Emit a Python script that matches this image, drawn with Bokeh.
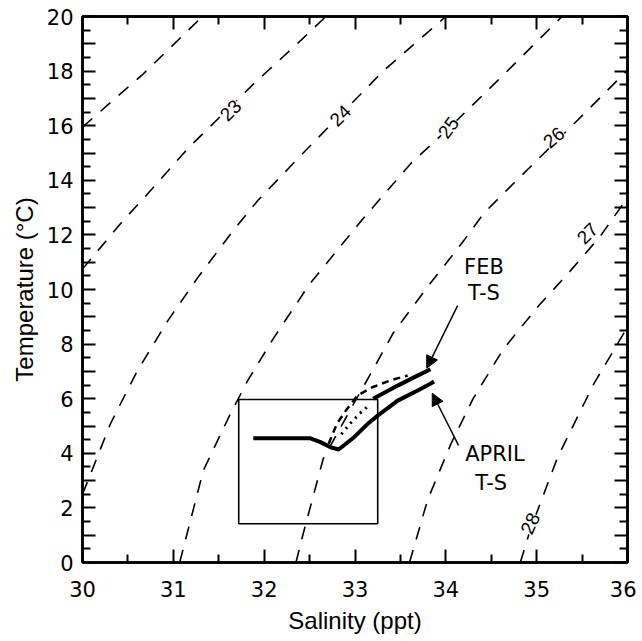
from bokeh.plotting import figure
from bokeh.models import (ColumnDataSource, LabelSet, Arrow, NormalHead, LinearAxis,
                          FixedTicker, Range1d)
from bokeh.core.properties import value
from bokeh.embed import file_html
from bokeh.resources import INLINE

# ---- sigma-t isopycnals: salinity (ppt) / temperature (degC)
s22 = [30.0, 30.67, 31.32]
t22 = [15.95, 17.9, 20.0]
s23 = [30.0, 30.42, 30.73, 31.17, 31.89, 32.38, 32.68]
t23 = [10.75, 12.42, 13.55, 15.2, 17.55, 19.05, 20.0]
s24 = [30.0, 30.31, 30.6, 30.94, 31.27, 31.66, 31.93, 32.43, 32.84, 33.31, 34.0]
t24 = [2.5, 5.1, 7.0, 8.86, 10.44, 12.16, 13.26, 15.0, 16.4, 18.0, 20.0]
s25 = [31.07, 31.33, 31.63, 31.82, 32.1, 32.5, 33.09, 33.61, 34.03, 34.57, 35.28]
t25 = [0.0, 3.37, 5.46, 6.67, 8.2, 10.2, 12.6, 14.6, 15.9, 17.65, 20.0]
s26 = [32.35, 32.43, 32.65, 33.0, 33.17, 33.42, 33.8, 34.2, 34.42, 34.75, 35.45, 36.05]
t26 = [0.0, 1.06, 3.8, 5.9, 6.9, 8.4, 10.1, 11.8, 12.8, 13.9, 16.2, 18.2]
s27 = [33.6, 33.8, 34.05, 34.3, 34.63, 35.02, 35.35, 35.7, 36.05]
t27 = [0.0, 2.3, 4.3, 6.0, 7.8, 9.4, 10.6, 11.95, 13.6]
s28 = [34.82, 34.93, 35.23, 35.63, 35.96, 36.1]
t28 = [0.0, 1.2, 3.85, 6.55, 8.4, 9.1]

isopycnals = [(s22, t22), (s23, t23), (s24, t24), (s25, t25), (s26, t26), (s27, t27), (s28, t28)]

iso_labels = ["23", "24", "25", "26", "27", "28"]
iso_label_s = [31.63, 32.84, 34.03, 35.19, 35.56, 34.93]
iso_label_t = [16.56, 16.37, 15.93, 15.57, 12.05, 1.43]
iso_label_angle = [45, 45, 54, 40, 45, 65]

# ---- observed T-S curves
april_s = [31.88, 32.51, 32.62, 32.73, 32.82, 32.99, 33.14, 33.25, 33.47, 33.69, 33.83, 33.87]
april_t = [4.55, 4.55, 4.41, 4.22, 4.14, 4.59, 5.08, 5.38, 5.93, 6.30, 6.55, 6.63]
feb_s = [33.20, 33.47, 33.65, 33.83]
feb_t = [6.0, 6.48, 6.78, 7.08]
dotted_s = [32.85, 32.95, 33.05, 33.17]
dotted_t = [4.7, 5.1, 5.45, 5.8]
dashed_s = [32.71, 32.80, 32.90, 33.03, 33.19, 33.39, 33.58]
dashed_t = [4.35, 5.08, 5.57, 6.12, 6.42, 6.67, 6.85]

# ---- box
box_s = [31.72, 33.25]
box_t = [1.42, 5.97]

# ---- axes ticks
x_ticks = [30, 31, 32, 33, 34, 35, 36]
x_minor = [30.5, 31.5, 32.5, 33.5, 34.5, 35.5]
y_ticks = list(range(0, 21))
y_minor = [i + 0.5 for i in range(20)]
y_overrides = {i: "" for i in y_ticks if i % 2 == 1}

FONT = "DejaVu Sans"
LFONT = "Liberation Sans"

p = figure(width=636, height=640, x_range=Range1d(30, 36), y_range=Range1d(0, 20),
           output_backend="svg", toolbar_location=None,
           min_border_left=82, min_border_right=9, min_border_top=16, min_border_bottom=78)
p.grid.visible = False
p.outline_line_color = "black"
p.outline_line_width = 2.5
p.background_fill_color = "white"
p.border_fill_color = "white"

def style_axis(ax, ticks, minor, major_len, minor_len):
    ax.ticker = FixedTicker(ticks=ticks, minor_ticks=minor)
    ax.major_tick_in = major_len
    ax.major_tick_out = 0
    ax.minor_tick_in = minor_len
    ax.minor_tick_out = 0
    ax.axis_line_width = 2.5
    ax.major_tick_line_width = 2
    ax.minor_tick_line_width = 2
    ax.axis_line_color = "black"
    ax.major_tick_line_color = "black"
    ax.minor_tick_line_color = "black"

style_axis(p.xaxis[0], x_ticks, x_minor, 13, 8)
style_axis(p.yaxis[0], y_ticks, y_minor, 13, 8)
p.xaxis.major_label_text_font = FONT
p.xaxis.major_label_text_font_size = "21px"
p.xaxis.major_label_standoff = 18
p.xaxis.axis_label = "Salinity (ppt)"
p.xaxis.axis_label_text_font = LFONT
p.xaxis.axis_label_text_font_size = "24px"
p.xaxis.axis_label_text_font_style = "normal"
p.xaxis.axis_label_standoff = 7
p.yaxis.major_label_text_font = FONT
p.yaxis.major_label_text_font_size = "21px"
p.yaxis.major_label_standoff = 9
p.yaxis.major_label_overrides = y_overrides
p.yaxis.axis_label = "Temperature (\u00b0C)"
p.yaxis.axis_label_text_font = LFONT
p.yaxis.axis_label_text_font_size = "24px"
p.yaxis.axis_label_text_font_style = "normal"
p.yaxis.axis_label_standoff = 6
p.xaxis.major_label_text_color = "black"
p.yaxis.major_label_text_color = "black"
p.xaxis.axis_label_text_color = "black"
p.yaxis.axis_label_text_color = "black"

top = LinearAxis(major_label_overrides={t: "" for t in x_ticks}, major_label_standoff=0)
style_axis(top, x_ticks, x_minor, 13, 8)
p.add_layout(top, "above")
right = LinearAxis(major_label_overrides={t: "" for t in y_ticks}, major_label_standoff=0)
style_axis(right, y_ticks, y_minor, 13, 8)
p.add_layout(right, "right")

# isopycnals
for s, t in isopycnals:
    p.line(s, t, line_color="black", line_width=1.6, line_dash="13 11")

lab_src = ColumnDataSource(dict(s=iso_label_s, t=iso_label_t, lab=iso_labels, ang=iso_label_angle))
p.add_layout(LabelSet(x="s", y="t", text="lab", angle="ang", angle_units="deg", source=lab_src,
                      text_align="center", text_baseline="middle",
                      text_font=value(LFONT), text_font_size="19px", text_color="black",
                      background_fill_color="white"))

# box
p.quad(left=[box_s[0]], right=[box_s[1]], bottom=[box_t[0]], top=[box_t[1]],
       fill_color=None, line_color="black", line_width=1.6)

# T-S curves
p.line(dashed_s, dashed_t, line_color="black", line_width=2.5, line_dash="7 5")
p.line(dotted_s, dotted_t, line_color="black", line_width=3, line_dash="2 5")
p.line(april_s, april_t, line_color="black", line_width=4, line_join="round")
p.line(feb_s, feb_t, line_color="black", line_width=4, line_join="round")

# annotations
p.text(x=[34.42, 34.42], y=[10.81, 9.89], text=["FEB", "T-S"],
       text_font=value(FONT), text_font_size="21px", text_align="center",
       text_baseline="middle", text_color="black")
p.text(x=[34.54, 34.50], y=[3.96, 2.93], text=["APRIL", "T-S"],
       text_font=value(FONT), text_font_size="21px", text_align="center",
       text_baseline="middle", text_color="black")
p.add_layout(Arrow(end=NormalHead(size=12, fill_color="black", line_color="black"),
                   x_start=34.13, y_start=9.41, x_end=33.79, y_end=7.12,
                   line_color="black", line_width=1.5))
p.add_layout(Arrow(end=NormalHead(size=12, fill_color="black", line_color="black"),
                   x_start=34.14, y_start=4.29, x_end=33.85, y_end=6.2,
                   line_color="black", line_width=1.5))

open("out.html", "w").write(file_html(p, INLINE))
